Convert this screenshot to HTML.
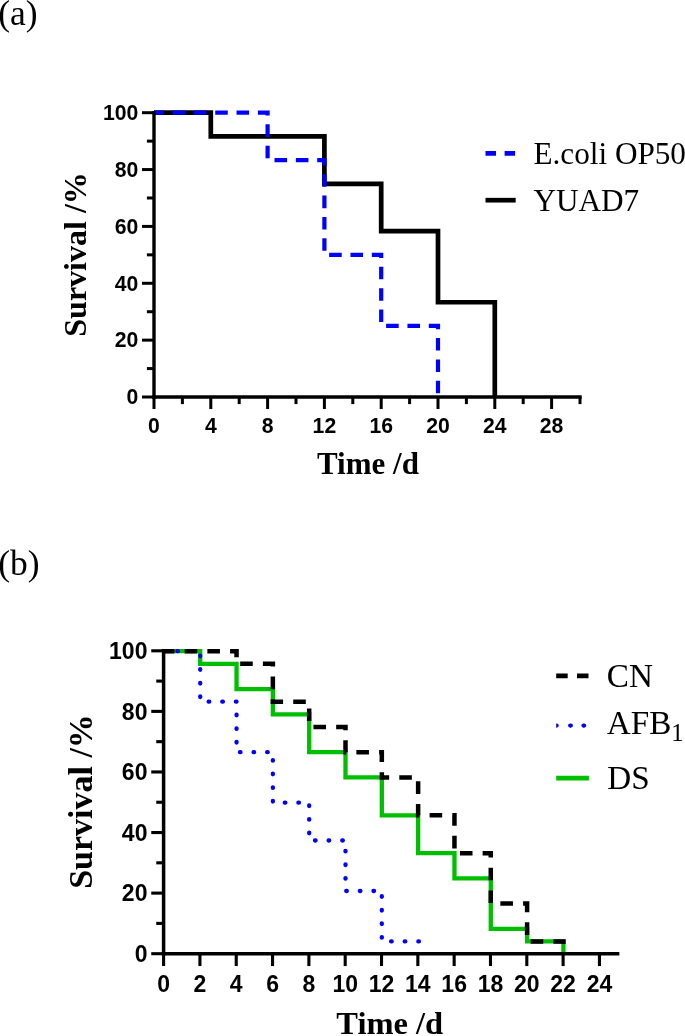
<!DOCTYPE html>
<html><head><meta charset="utf-8"><title>Survival curves</title>
<style>html,body{margin:0;padding:0;background:#fff}body{width:685px;height:1036px;overflow:hidden;font-family:"Liberation Sans",sans-serif}svg{display:block;will-change:transform}</style>
</head><body>
<svg width="685" height="1036" viewBox="0 0 685 1036">
<rect width="685" height="1036" fill="#fff"/>
<g fill="none" stroke-width="4" stroke-linejoin="miter">
<path d="M154 112.7 H210.8 V136.38 H324.4 V183.78 H381.2 V231.17 H438 V302.24 H494.8 V397" stroke="#000" stroke-width="4.7"/>
<path d="M154 112.7 H267.6 V160.09 H324.4 V254.85 H381.2 V325.93 H438 V397" stroke="#0000ff" stroke-width="4.2" stroke-dasharray="12.55 8.79" stroke-dashoffset="2.8"/>
</g>
<g stroke="#000" stroke-width="3.4" fill="none" stroke-linecap="butt">
<path d="M154 111 V398.7"/>
<path d="M152.3 397 H581.7"/>
<g stroke-width="3">
<path d="M142 397 H154"/>
<path d="M146.9 368.57 H154"/>
<path d="M142 340.14 H154"/>
<path d="M146.9 311.71 H154"/>
<path d="M142 283.28 H154"/>
<path d="M146.9 254.85 H154"/>
<path d="M142 226.42 H154"/>
<path d="M146.9 197.99 H154"/>
<path d="M142 169.56 H154"/>
<path d="M146.9 141.13 H154"/>
<path d="M142 112.7 H154"/>
<path d="M154 397 V409"/>
<path d="M210.8 397 V409"/>
<path d="M267.6 397 V409"/>
<path d="M324.4 397 V409"/>
<path d="M381.2 397 V409"/>
<path d="M438 397 V409"/>
<path d="M494.8 397 V409"/>
<path d="M551.6 397 V409"/>
<path d="M182.4 397 V404.1"/>
<path d="M239.2 397 V404.1"/>
<path d="M296 397 V404.1"/>
<path d="M352.8 397 V404.1"/>
<path d="M409.6 397 V404.1"/>
<path d="M466.4 397 V404.1"/>
<path d="M523.2 397 V404.1"/>
<path d="M580 397 V404.1"/>
</g></g>
<g font-family="Liberation Sans, sans-serif" font-weight="bold" font-size="21.2" fill="#000">
<text x="138.4" y="404.23" text-anchor="end">0</text>
<text x="138.4" y="347.37" text-anchor="end">20</text>
<text x="138.4" y="290.51" text-anchor="end">40</text>
<text x="138.4" y="233.65" text-anchor="end">60</text>
<text x="138.4" y="176.79" text-anchor="end">80</text>
<text x="138.4" y="119.93" text-anchor="end">100</text>
<text x="154" y="433.1" text-anchor="middle">0</text>
<text x="210.8" y="433.1" text-anchor="middle">4</text>
<text x="267.6" y="433.1" text-anchor="middle">8</text>
<text x="324.4" y="433.1" text-anchor="middle">12</text>
<text x="381.2" y="433.1" text-anchor="middle">16</text>
<text x="438" y="433.1" text-anchor="middle">20</text>
<text x="494.8" y="433.1" text-anchor="middle">24</text>
<text x="551.6" y="433.1" text-anchor="middle">28</text>
</g>
<path d="M485.5 153.45 H515.1" stroke="#0000ff" stroke-width="4.7" stroke-dasharray="10.5 8.6" fill="none"/>
<path d="M485.5 200.2 H515.7" stroke="#000" stroke-width="4.7" fill="none"/>
<g font-family="Liberation Serif, serif" font-size="31.2" fill="#000">
<text x="533.5" y="164.3">E.coli OP50</text>
<text x="533.5" y="210.9">YUAD7</text>
</g>
<g font-family="Liberation Serif, serif" fill="#000">
<text x="-1.8" y="24.5" font-size="35.5">(a)</text>
<text x="-1.8" y="574.6" font-size="35.5">(b)</text>
<g font-weight="bold" font-size="31">
<text x="317" y="474">Time /d</text>
<text transform="translate(86.3 336.7) rotate(-90) scale(1.033 1)">Survival /%</text>
</g></g>
<g fill="none" stroke-width="4.3" stroke-linejoin="miter" transform="translate(0.3 0.4)">
<path d="M163.6 650.8 H199.92 V663.43 H236.24 V688.66 H272.56 V713.89 H308.88 V751.76 H345.2 V777.02 H381.52 V814.88 H417.84 V852.74 H454.16 V877.98 H490.48 V928.47 H526.8 V941.07 H563.12 V953.7" stroke="#00bf00"/>
<path d="M163.6 650.8 H199.92 V701.29 H236.24 V751.76 H272.56 V802.25 H308.88 V840.11 H345.2 V890.61 H381.52 V941.07 H420.14" stroke="#0000ff" stroke-width="4.3" stroke-linecap="round" stroke-dasharray="0.6 13.02" stroke-dashoffset="0.1"/>
<path d="M163.6 650.8 H236.24 V663.43 H272.56 V701.29 H308.88 V726.52 H345.2 V751.76 H381.52 V777.02 H417.84 V814.88 H454.16 V852.74 H490.48 V903.21 H526.8 V941.07 H563.12 V953.7" stroke="#000" stroke-width="4.5" stroke-dasharray="12.6 10.125" stroke-dashoffset="2"/>
</g>
<g stroke="#000" stroke-width="3.5" fill="none" stroke-linecap="butt">
<path d="M163.6 649.05 V955.45"/>
<path d="M161.85 953.7 H619.35"/>
<g stroke-width="3.1">
<path d="M151.25 953.7 H163.6"/>
<path d="M156.25 923.41 H163.6"/>
<path d="M151.25 893.12 H163.6"/>
<path d="M156.25 862.83 H163.6"/>
<path d="M151.25 832.54 H163.6"/>
<path d="M156.25 802.25 H163.6"/>
<path d="M151.25 771.96 H163.6"/>
<path d="M156.25 741.67 H163.6"/>
<path d="M151.25 711.38 H163.6"/>
<path d="M156.25 681.09 H163.6"/>
<path d="M151.25 650.8 H163.6"/>
<path d="M163.6 953.7 V966.05"/>
<path d="M199.92 953.7 V966.05"/>
<path d="M236.24 953.7 V966.05"/>
<path d="M272.56 953.7 V966.05"/>
<path d="M308.88 953.7 V966.05"/>
<path d="M345.2 953.7 V966.05"/>
<path d="M381.52 953.7 V966.05"/>
<path d="M417.84 953.7 V966.05"/>
<path d="M454.16 953.7 V966.05"/>
<path d="M490.48 953.7 V966.05"/>
<path d="M526.8 953.7 V966.05"/>
<path d="M563.12 953.7 V966.05"/>
<path d="M599.44 953.7 V966.05"/>
</g></g>
<g font-family="Liberation Sans, sans-serif" font-weight="bold" font-size="23" fill="#000">
<text x="147.45" y="962.03" text-anchor="end">0</text>
<text x="147.45" y="901.45" text-anchor="end">20</text>
<text x="147.45" y="840.87" text-anchor="end">40</text>
<text x="147.45" y="780.29" text-anchor="end">60</text>
<text x="147.45" y="719.71" text-anchor="end">80</text>
<text x="147.45" y="659.13" text-anchor="end">100</text>
<text x="163.6" y="991.95" text-anchor="middle">0</text>
<text x="199.92" y="991.95" text-anchor="middle">2</text>
<text x="236.24" y="991.95" text-anchor="middle">4</text>
<text x="272.56" y="991.95" text-anchor="middle">6</text>
<text x="308.88" y="991.95" text-anchor="middle">8</text>
<text x="345.2" y="991.95" text-anchor="middle">10</text>
<text x="381.52" y="991.95" text-anchor="middle">12</text>
<text x="417.84" y="991.95" text-anchor="middle">14</text>
<text x="454.16" y="991.95" text-anchor="middle">16</text>
<text x="490.48" y="991.95" text-anchor="middle">18</text>
<text x="526.8" y="991.95" text-anchor="middle">20</text>
<text x="563.12" y="991.95" text-anchor="middle">22</text>
<text x="599.44" y="991.95" text-anchor="middle">24</text>
</g>
<g font-family="Liberation Serif, serif" fill="#000"><g font-weight="bold">
<text x="336.3" y="1034" font-size="32.5">Time /d</text>
<text transform="translate(91.7 888.8) rotate(-90) scale(1.033 1)" font-size="32.9">Survival /%</text>
</g></g>
<path d="M556.2 675.85 H588.5" stroke="#000" stroke-width="4.8" stroke-dasharray="11.5 9.3" fill="none"/>
<path d="M556.2 723.45 h0.4 a2.15 2.15 0 0 1 0 4.3 h-0.4 z" fill="#0000ff"/><path d="M570.2 725.6 h0.6 M583.5 725.6 h0.6" stroke="#0000ff" stroke-width="4.3" stroke-linecap="round" fill="none"/>
<path d="M556.2 778.05 H588.9" stroke="#00bf00" stroke-width="4.8" fill="none"/>
<g font-family="Liberation Serif, serif" font-size="33.2" fill="#000">
<text x="606.8" y="686.8">CN</text>
<text x="606.8" y="733.75">AFB<tspan font-size="24.5" dy="7">1</tspan></text>
<text x="607.3" y="789">DS</text>
</g>
</svg>
</body></html>
